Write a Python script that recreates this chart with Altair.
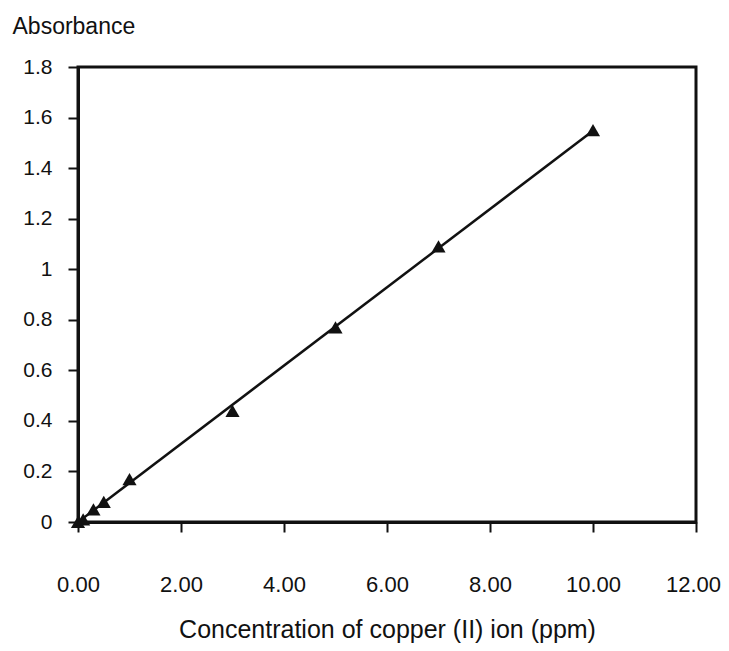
import altair as alt
import pandas as pd

concentration = [0.0, 0.1, 0.3, 0.5, 1.0, 3.0, 5.0, 7.0, 10.0]
absorbance = [0.0, 0.01, 0.05, 0.08, 0.17, 0.44, 0.77, 1.09, 1.55]
x_ticks = [0, 2, 4, 6, 8, 10, 12]
y_ticks = [0, 0.2, 0.4, 0.6, 0.8, 1, 1.2, 1.4, 1.6, 1.8]

df = pd.DataFrame({"conc": concentration, "abs": absorbance})

FONT = "Liberation Sans"

x_enc = alt.X(
    "conc:Q",
    scale=alt.Scale(domain=[0, 12], nice=False),
    axis=alt.Axis(
        values=x_ticks,
        format=".2f",
        title="Concentration of copper (II) ion (ppm)",
        titleFont=FONT,
        titleFontSize=25,
        titleFontWeight="normal",
        titleColor="#111",
        titleBaseline="alphabetic",
        titleY=115,
        labelFont=FONT,
        labelFontSize=22,
        labelColor="#111",
        labelPadding=42,
        labelFlush=False,
        labelOverlap=False,
        labelOffset={"condition": {"test": "datum.value == 12", "value": -3}, "value": 0},
        tickSize=10,
        tickWidth=2,
        tickColor="#111",
        domainColor="#111",
        domainWidth=3,
        grid=False,
    ),
)
y_enc = alt.Y(
    "abs:Q",
    scale=alt.Scale(domain=[0, 1.8], nice=False),
    axis=alt.Axis(
        values=y_ticks,
        format="~g",
        title="Absorbance",
        titleFont=FONT,
        titleFontSize=23,
        titleFontWeight="normal",
        titleColor="#111",
        titleAngle=0,
        titleAlign="left",
        titleBaseline="alphabetic",
        titleX=-66,
        titleY=-34,
        labelFont=FONT,
        labelFontSize=21,
        labelColor="#111",
        labelPadding=16,
        labelFlush=False,
        labelOverlap=False,
        tickSize=10,
        tickWidth=2,
        tickColor="#111",
        domainColor="#111",
        domainWidth=3,
        grid=False,
    ),
)

base = alt.Chart(df)

line = base.transform_regression(
    "conc", "abs", extent=[0, 10]
).mark_line(color="#111", strokeWidth=2.5).encode(x=x_enc, y=y_enc)

points = base.mark_point(
    shape="triangle-up", filled=True, color="#111", opacity=1, size=200
).encode(x="conc:Q", y="abs:Q")

chart = (
    alt.layer(line, points)
    .properties(
        width=618,
        height=455,
        padding={"left": 70, "top": 59, "right": 25, "bottom": 121},
        autosize=alt.AutoSizeParams(type="none"),
        background="white",
    )
    .configure_view(stroke="#111", strokeWidth=3)
)

chart.save("out.html", embed_options={"renderer": "svg", "actions": False})
